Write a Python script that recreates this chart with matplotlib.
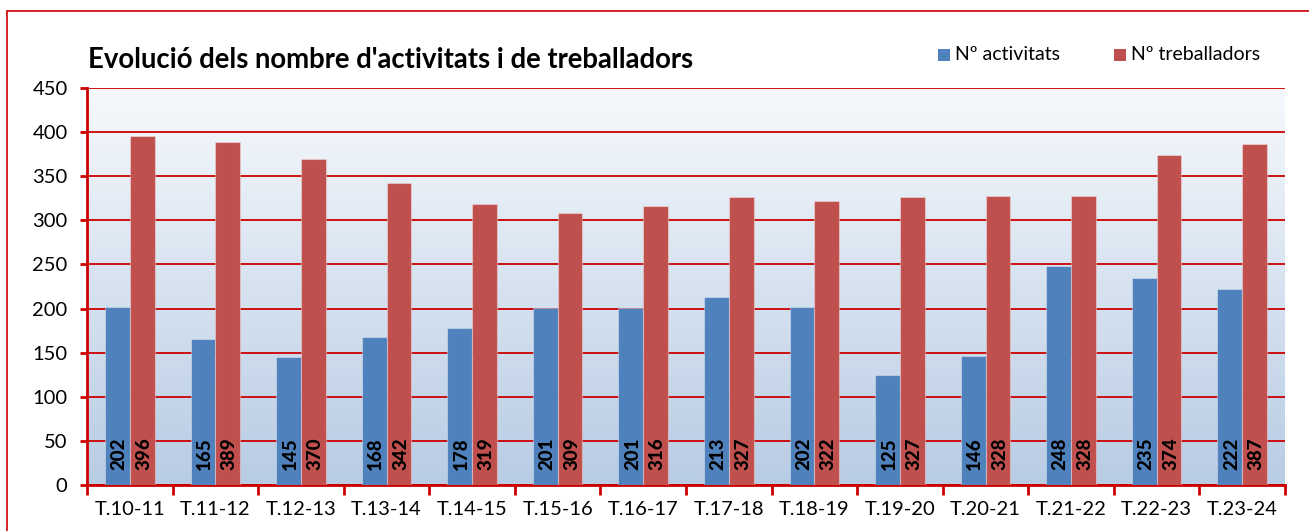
import numpy as np
import matplotlib
matplotlib.use("Agg")
import matplotlib.pyplot as plt
from matplotlib.patches import Rectangle

categories = ["T.10-11", "T.11-12", "T.12-13", "T.13-14", "T.14-15", "T.15-16", "T.16-17",
              "T.17-18", "T.18-19", "T.19-20", "T.20-21", "T.21-22", "T.22-23", "T.23-24"]
activitats = [202, 165, 145, 168, 178, 201, 201, 213, 202, 125, 146, 248, 235, 222]
treballadors = [396, 389, 370, 342, 319, 309, 316, 327, 322, 327, 328, 328, 374, 387]
yticks = [0, 50, 100, 150, 200, 250, 300, 350, 400, 450]
title = "Evolució dels nombre d'activitats i de treballadors"
series_names = ["Nº activitats", "Nº treballadors"]

plt.rcParams['font.family'] = ['Lato', 'DejaVu Sans']

W, H = 1309, 531
fig = plt.figure(figsize=(W / 100, H / 100), dpi=100)
fig.patch.set_facecolor("white")

# outer red border
border = Rectangle((7 / W, -0.2), 1.2, 1.2 - 10.5 / H, transform=fig.transFigure,
                   fill=False, edgecolor="#D00000", linewidth=1.2, zorder=0)
fig.patches.append(border)

left, right, top, bottom = 87, 1285, 88.3, 484.7
ax = fig.add_axes([left / W, 1 - bottom / H, (right - left) / W, (bottom - top) / H])

n = len(categories)
x = np.arange(n)
ax.set_xlim(-0.5, n - 0.5)
ax.set_ylim(0, 450)

# gradient background
top_c = np.array([246, 249, 252]) / 255
bot_c = np.array([184, 204, 228]) / 255
t = np.linspace(0, 1, 256)[:, None]
grad = (top_c[None, :] * (1 - t) + bot_c[None, :] * t)[:, None, :]
ax.imshow(grad, extent=(-0.5, n - 0.5, 0, 450), aspect="auto", origin="upper", zorder=0)

blue = "#4F81BD"
red = "#C0504D"
bw = 0.29
ax.bar(x - bw / 2, activitats, bw, color=blue, edgecolor=(1, 1, 1, 0.35), linewidth=0.8, zorder=3)
ax.bar(x + bw / 2, treballadors, bw, color=red, edgecolor=(1, 1, 1, 0.35), linewidth=0.8, zorder=3)

for xi, v in zip(x - bw / 2, activitats):
    ax.text(xi + 0.02, 17, str(v), rotation=90, ha="center", va="bottom", fontsize=13.5,
            fontweight="black", color="black", zorder=4)
for xi, v in zip(x + bw / 2, treballadors):
    ax.text(xi + 0.02, 17, str(v), rotation=90, ha="center", va="bottom", fontsize=13.5,
            fontweight="black", color="black", zorder=4)

gridc = "#CC0000"
ax.set_yticks(yticks)
ax.yaxis.grid(True, color=gridc, linewidth=1.3, zorder=1)
ax.set_axisbelow(True)
ax.set_xticks(x)
ax.set_xticklabels(categories)
ax.set_xticks(np.arange(-0.5, n, 1), minor=True)
ax.tick_params(axis="x", which="major", length=0, pad=12, labelsize=14.5)
ax.tick_params(axis="x", which="minor", length=7, width=2, color=gridc, direction="out")
ax.tick_params(axis="y", length=5, width=2, color=gridc, direction="out", labelsize=14.5, pad=9)

for s in ["top", "right"]:
    ax.spines[s].set_visible(False)
ax.spines["left"].set_color(gridc)
ax.spines["left"].set_linewidth(2)
ax.spines["bottom"].set_color(gridc)
ax.spines["bottom"].set_linewidth(2)

fig.text(88 / W, 1 - 60 / H, title, fontsize=19.8, fontweight="bold", ha="left", va="center")

# legend
for name, col, sx in [(series_names[0], blue, 938), (series_names[1], red, 1114)]:
    fig.patches.append(Rectangle((sx / W, 1 - 61 / H), 12 / W, 12 / H, transform=fig.transFigure,
                                 facecolor=col, edgecolor="none"))
    fig.text((sx + 17) / W, 1 - 55 / H, name, fontsize=14, ha="left", va="center")

fig.savefig("out.png", dpi=100)
